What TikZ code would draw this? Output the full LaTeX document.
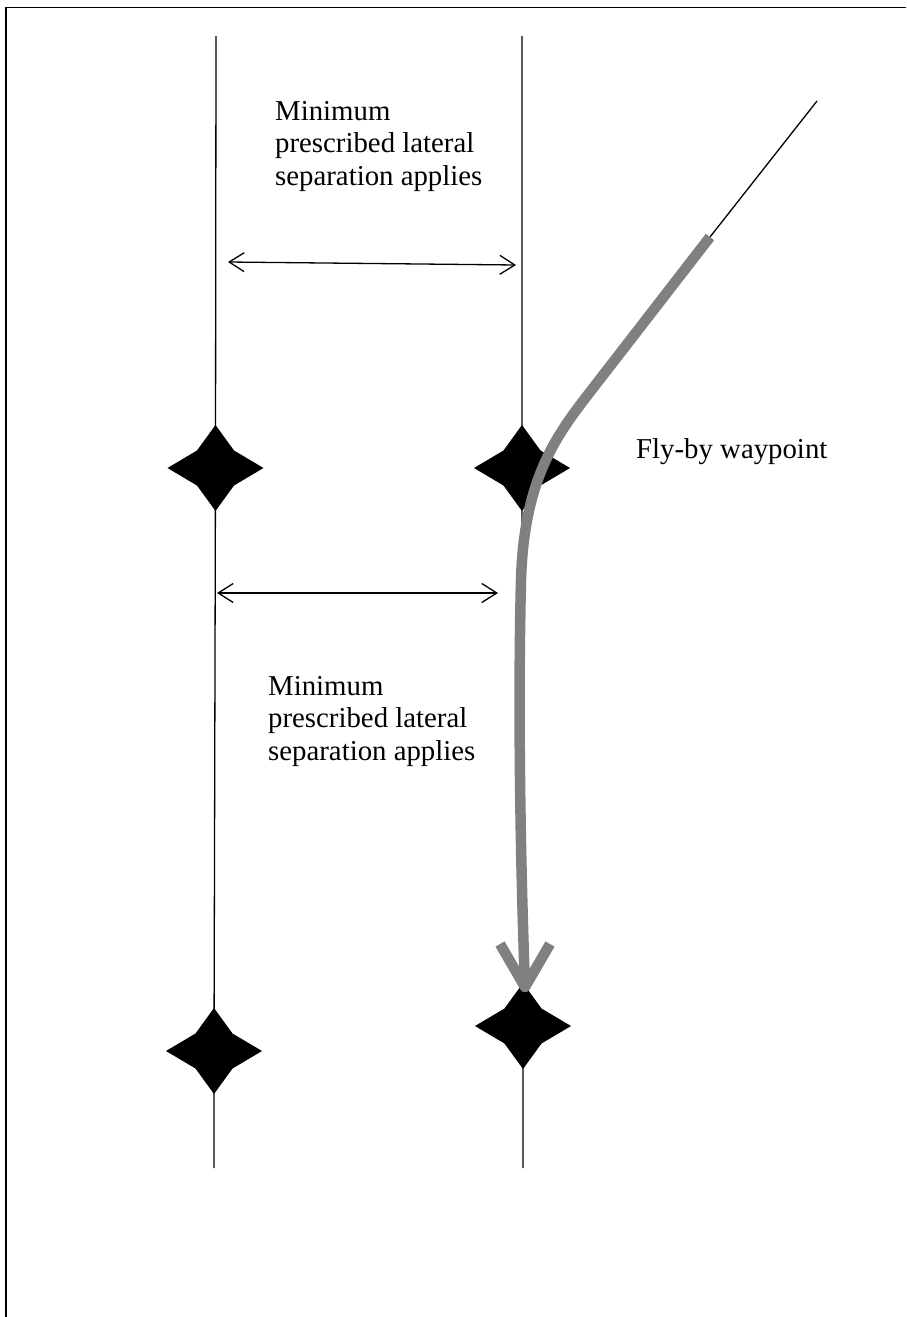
\documentclass[tikz,border=0pt]{standalone}
\usepackage{fontspec}
\setmainfont{Liberation Serif}
\usetikzlibrary{arrows.meta}
\definecolor{trackgray}{RGB}{128,128,128}
\begin{document}
\begin{tikzpicture}[x=1pt,y=-1pt,
  thinline/.style={line width=1.3pt,black},
  framelines/.style={line width=1.6pt,black},
  separrow/.style={line width=1.3pt,
    {Straight Barb[length=15pt,width=19pt]}-{Straight Barb[length=15pt,width=19pt]}},
  labeltext/.style={font=\fontsize{28.8}{32.5}\selectfont, align=left, inner sep=0pt},
  track/.style={line width=10.5pt, draw=trackgray},
  wpt/.pic={\fill[black] (0,-43) -- (18.5,-17.5) -- (48,0) -- (18.5,17.5) -- (0,43) -- (-18.5,17.5) -- (-48,0) -- (-18.5,-17.5) -- cycle;}]
\useasboundingbox (0,0) rectangle (906,1317);
% frame (partly cut off)
\draw[framelines] (6,1317) -- (6,7.5) -- (906,7.5);
% route ends and waypoints
\coordinate (L0) at (216,36);
\coordinate (W1) at (215.5,468);
\coordinate (W3) at (214,1051);
\coordinate (L1) at (214,1168);
\coordinate (R0) at (522,36);
\coordinate (W2) at (522,468);
\coordinate (W4) at (523,1026);
\coordinate (R1) at (523,1168);
\draw[thinline] (L0) -- (W1) -- (W3) -- (L1);
\draw[thinline] (R0) -- (W2) -- (W4) -- (R1);
% separation arrows
\coordinate (A1) at (228,262);
\coordinate (A2) at (516,265);
\coordinate (B1) at (217,593);
\coordinate (B2) at (498,593);
\draw[separrow] (A1) -- (A2);
\draw[separrow] (B1) -- (B2);
% fly-by track
\coordinate (T0) at (817,101);
\coordinate (T1) at (710,237);
\coordinate (T2) at (590,392);
\coordinate (T3) at (521,580);
\coordinate (TIP) at (525,987);
\coordinate (HL) at (500,944);
\coordinate (HR) at (550,944);
\draw[thinline] (T0) -- (T1);
% waypoints
\pic at (W1) {wpt};
\pic at (W2) {wpt};
\pic at (W3) {wpt};
\pic at (W4) {wpt};
\draw[track] (T1) -- (T2) .. controls (555,437) and (524,480) .. (T3)
  .. controls (518,700) and (520,850) .. (TIP);
\draw[track, line join=round] (HL) -- (TIP) -- (HR);
% labels
\node[labeltext, anchor=north west] (lab1) at (275,101) {Minimum\\prescribed lateral\\separation applies};
\node[labeltext, anchor=north west] (lab2) at (268,676) {Minimum\\prescribed lateral\\separation applies};
\node[labeltext, anchor=base west] (lab3) at (636,458) {Fly-by waypoint};
\end{tikzpicture}
\end{document}
